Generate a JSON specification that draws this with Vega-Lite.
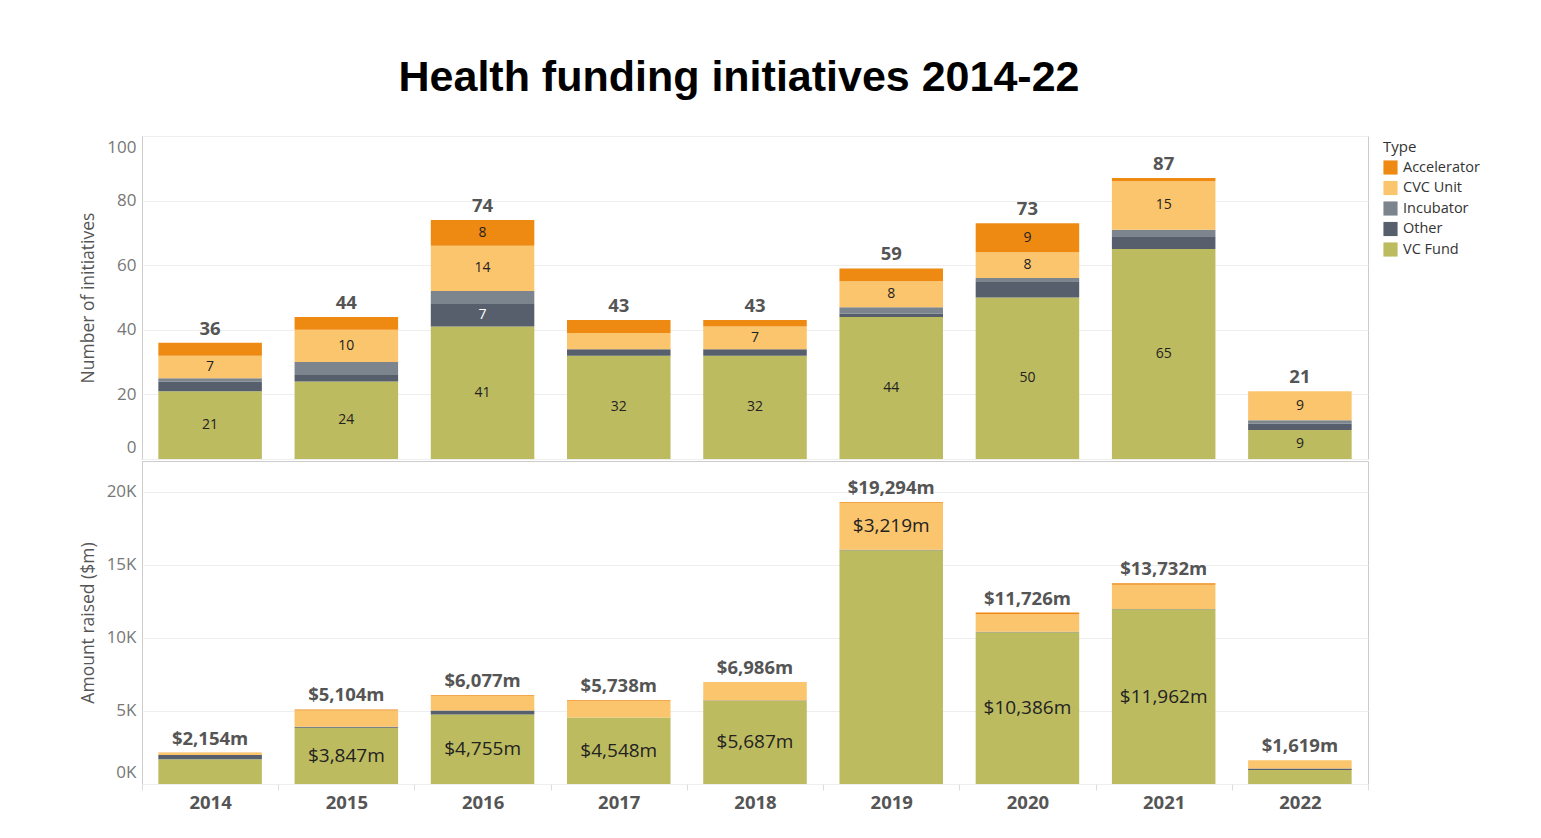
{
  "$schema": "https://vega.github.io/schema/vega-lite/v6.json",
  "background": "white",
  "padding": {"left": 78, "top": 56, "right": 5, "bottom": 5},
  "title": {"text": "Health funding initiatives 2014-22", "font": "Liberation Sans", "fontSize": 43, "fontWeight": "bold", "color": "#000000", "anchor": "start", "frame": "bounds", "dx": 320, "offset": 36},
  "data": {"values": [
    {"year": "2014", "type": "VC Fund", "count": 21, "amount": 1700},
    {"year": "2014", "type": "Other", "count": 3, "amount": 280},
    {"year": "2014", "type": "Incubator", "count": 1, "amount": 0},
    {"year": "2014", "type": "CVC Unit", "count": 7, "amount": 150},
    {"year": "2014", "type": "Accelerator", "count": 4, "amount": 24},
    {"year": "2015", "type": "VC Fund", "count": 24, "amount": 3847},
    {"year": "2015", "type": "Other", "count": 2, "amount": 70},
    {"year": "2015", "type": "Incubator", "count": 4, "amount": 0},
    {"year": "2015", "type": "CVC Unit", "count": 10, "amount": 1120},
    {"year": "2015", "type": "Accelerator", "count": 4, "amount": 67},
    {"year": "2016", "type": "VC Fund", "count": 41, "amount": 4755},
    {"year": "2016", "type": "Other", "count": 7, "amount": 270},
    {"year": "2016", "type": "Incubator", "count": 4, "amount": 0},
    {"year": "2016", "type": "CVC Unit", "count": 14, "amount": 1000},
    {"year": "2016", "type": "Accelerator", "count": 8, "amount": 52},
    {"year": "2017", "type": "VC Fund", "count": 32, "amount": 4548},
    {"year": "2017", "type": "Other", "count": 2, "amount": 0},
    {"year": "2017", "type": "Incubator", "count": 0, "amount": 0},
    {"year": "2017", "type": "CVC Unit", "count": 5, "amount": 1130},
    {"year": "2017", "type": "Accelerator", "count": 4, "amount": 60},
    {"year": "2018", "type": "VC Fund", "count": 32, "amount": 5687},
    {"year": "2018", "type": "Other", "count": 2, "amount": 30},
    {"year": "2018", "type": "Incubator", "count": 0, "amount": 0},
    {"year": "2018", "type": "CVC Unit", "count": 7, "amount": 1260},
    {"year": "2018", "type": "Accelerator", "count": 2, "amount": 9},
    {"year": "2019", "type": "VC Fund", "count": 44, "amount": 16000},
    {"year": "2019", "type": "Other", "count": 1, "amount": 20},
    {"year": "2019", "type": "Incubator", "count": 2, "amount": 0},
    {"year": "2019", "type": "CVC Unit", "count": 8, "amount": 3219},
    {"year": "2019", "type": "Accelerator", "count": 4, "amount": 55},
    {"year": "2020", "type": "VC Fund", "count": 50, "amount": 10386},
    {"year": "2020", "type": "Other", "count": 5, "amount": 30},
    {"year": "2020", "type": "Incubator", "count": 1, "amount": 0},
    {"year": "2020", "type": "CVC Unit", "count": 8, "amount": 1190},
    {"year": "2020", "type": "Accelerator", "count": 9, "amount": 120},
    {"year": "2021", "type": "VC Fund", "count": 65, "amount": 11962},
    {"year": "2021", "type": "Other", "count": 4, "amount": 20},
    {"year": "2021", "type": "Incubator", "count": 2, "amount": 0},
    {"year": "2021", "type": "CVC Unit", "count": 15, "amount": 1650},
    {"year": "2021", "type": "Accelerator", "count": 1, "amount": 100},
    {"year": "2022", "type": "VC Fund", "count": 9, "amount": 950},
    {"year": "2022", "type": "Other", "count": 2, "amount": 110},
    {"year": "2022", "type": "Incubator", "count": 1, "amount": 9},
    {"year": "2022", "type": "CVC Unit", "count": 9, "amount": 550},
    {"year": "2022", "type": "Accelerator", "count": 0, "amount": 0}
  ]},
  "transform": [
    {"calculate": "indexof(['VC Fund','Other','Incubator','CVC Unit','Accelerator'], datum.type)", "as": "ord"}
  ],
  "spacing": 0,
  "vconcat": [
    {
      "width": 1226,
      "height": 323,
      "layer": [
        {
          "mark": {"type": "bar", "width": {"band": 0.76}},
          "encoding": {
            "x": {"field": "year", "type": "ordinal", "scale": {"paddingInner": 0, "paddingOuter": 0}, "axis": null},
            "y": {"field": "count", "type": "quantitative", "stack": "zero", "title": "Number of initiatives", "scale": {"domain": [0, 100], "nice": false}, "axis": {"values": [0, 20, 40, 60, 80, 100]}},
            "color": {"field": "type", "type": "nominal", "title": "Type", "scale": {"domain": ["Accelerator", "CVC Unit", "Incubator", "Other", "VC Fund"], "range": ["#EE8A12", "#FBC56D", "#7C848E", "#565F6B", "#BDBB60"]}},
            "order": {"field": "ord", "type": "quantitative", "sort": "ascending"}
          }
        },
        {
          "mark": {"type": "text", "fontSize": 14, "baseline": "middle", "font": "Open Sans"},
          "encoding": {
            "x": {"field": "year", "type": "ordinal"},
            "y": {"field": "count", "type": "quantitative", "stack": "zero", "bandPosition": 0.5, "title": "Number of initiatives"},
            "detail": {"field": "type", "type": "nominal"},
            "order": {"field": "ord", "type": "quantitative", "sort": "ascending"},
            "text": {"condition": {"test": "datum.count >= 7", "field": "count", "type": "quantitative"}, "value": ""},
            "color": {"condition": {"test": "datum.type === 'Other'", "value": "#ffffff"}, "value": "#222222"}
          }
        },
        {
          "mark": {"type": "text", "fontSize": 18.5, "fontWeight": "bold", "color": "#555555", "baseline": "bottom", "dy": -4, "font": "Open Sans"},
          "encoding": {
            "x": {"field": "year", "type": "ordinal"},
            "y": {"aggregate": "sum", "field": "count", "type": "quantitative", "title": "Number of initiatives"},
            "text": {"aggregate": "sum", "field": "count", "type": "quantitative"}
          }
        }
      ]
    },
    {
      "width": 1226,
      "height": 323,
      "layer": [
        {
          "mark": {"type": "bar", "width": {"band": 0.76}},
          "encoding": {
            "x": {"field": "year", "type": "ordinal", "scale": {"paddingInner": 0, "paddingOuter": 0}, "axis": {"title": null, "labelAngle": 0}},
            "y": {"field": "amount", "type": "quantitative", "stack": "zero", "title": "Amount raised ($m)", "scale": {"domain": [0, 22100], "nice": false}, "axis": {"values": [0, 5000, 10000, 15000, 20000], "labelExpr": "(datum.value / 1000) + 'K'"}},
            "color": {"field": "type", "type": "nominal", "title": "Type"},
            "order": {"field": "ord", "type": "quantitative", "sort": "ascending"}
          }
        },
        {
          "transform": [{"calculate": "'$' + format(datum.amount, ',') + 'm'", "as": "lbl"}],
          "mark": {"type": "text", "fontSize": 19, "baseline": "middle", "color": "#222222", "font": "Open Sans"},
          "encoding": {
            "x": {"field": "year", "type": "ordinal"},
            "y": {"field": "amount", "type": "quantitative", "stack": "zero", "bandPosition": 0.5, "title": "Amount raised ($m)"},
            "detail": {"field": "type", "type": "nominal"},
            "order": {"field": "ord", "type": "quantitative", "sort": "ascending"},
            "text": {"condition": {"test": "datum.amount >= 3000 && !(datum.year === '2019' && datum.type === 'VC Fund')", "field": "lbl", "type": "nominal"}, "value": ""}
          }
        },
        {
          "transform": [
            {"aggregate": [{"op": "sum", "field": "amount", "as": "total"}], "groupby": ["year"]},
            {"calculate": "'$' + format(datum.total, ',') + 'm'", "as": "lbl"}
          ],
          "mark": {"type": "text", "fontSize": 18.5, "fontWeight": "bold", "color": "#555555", "baseline": "bottom", "dy": -4, "font": "Open Sans"},
          "encoding": {
            "x": {"field": "year", "type": "ordinal"},
            "y": {"field": "total", "type": "quantitative", "title": "Amount raised ($m)"},
            "text": {"field": "lbl", "type": "nominal"}
          }
        }
      ]
    }
  ],
  "config": {
    "font": "Open Sans",
    "view": {"stroke": "#cccccc", "strokeWidth": 1},
    "axis": {"labelFont": "Open Sans", "titleFont": "Open Sans"},
    "axisY": {"grid": true, "gridColor": "#eeeeee", "domain": false, "ticks": false, "labelFontSize": 17, "labelColor": "#777777", "labelPadding": 6, "labelFlush": true, "labelFlushOffset": -3, "titleFontSize": 17.5, "titleFontWeight": "normal", "titleColor": "#555555", "titleX": -49, "titleBaseline": "alphabetic"},
    "axisX": {"labelFontSize": 18.5, "labelFontWeight": "bold", "labelColor": "#555555", "domain": false, "ticks": true, "tickColor": "#dddddd", "tickSize": 6, "tickBand": "extent", "labelPadding": 3, "grid": false},
    "legend": {"orient": "right", "offset": 10, "padding": 4, "titleFont": "Open Sans", "titleFontSize": 15, "titleFontWeight": "normal", "titleColor": "#333333", "titlePadding": 5, "labelFont": "Open Sans", "labelFontSize": 14.5, "labelColor": "#333333", "labelOffset": 5, "symbolType": "square", "symbolSize": 200, "symbolStrokeWidth": 0, "rowPadding": 4.5}
  }
}
